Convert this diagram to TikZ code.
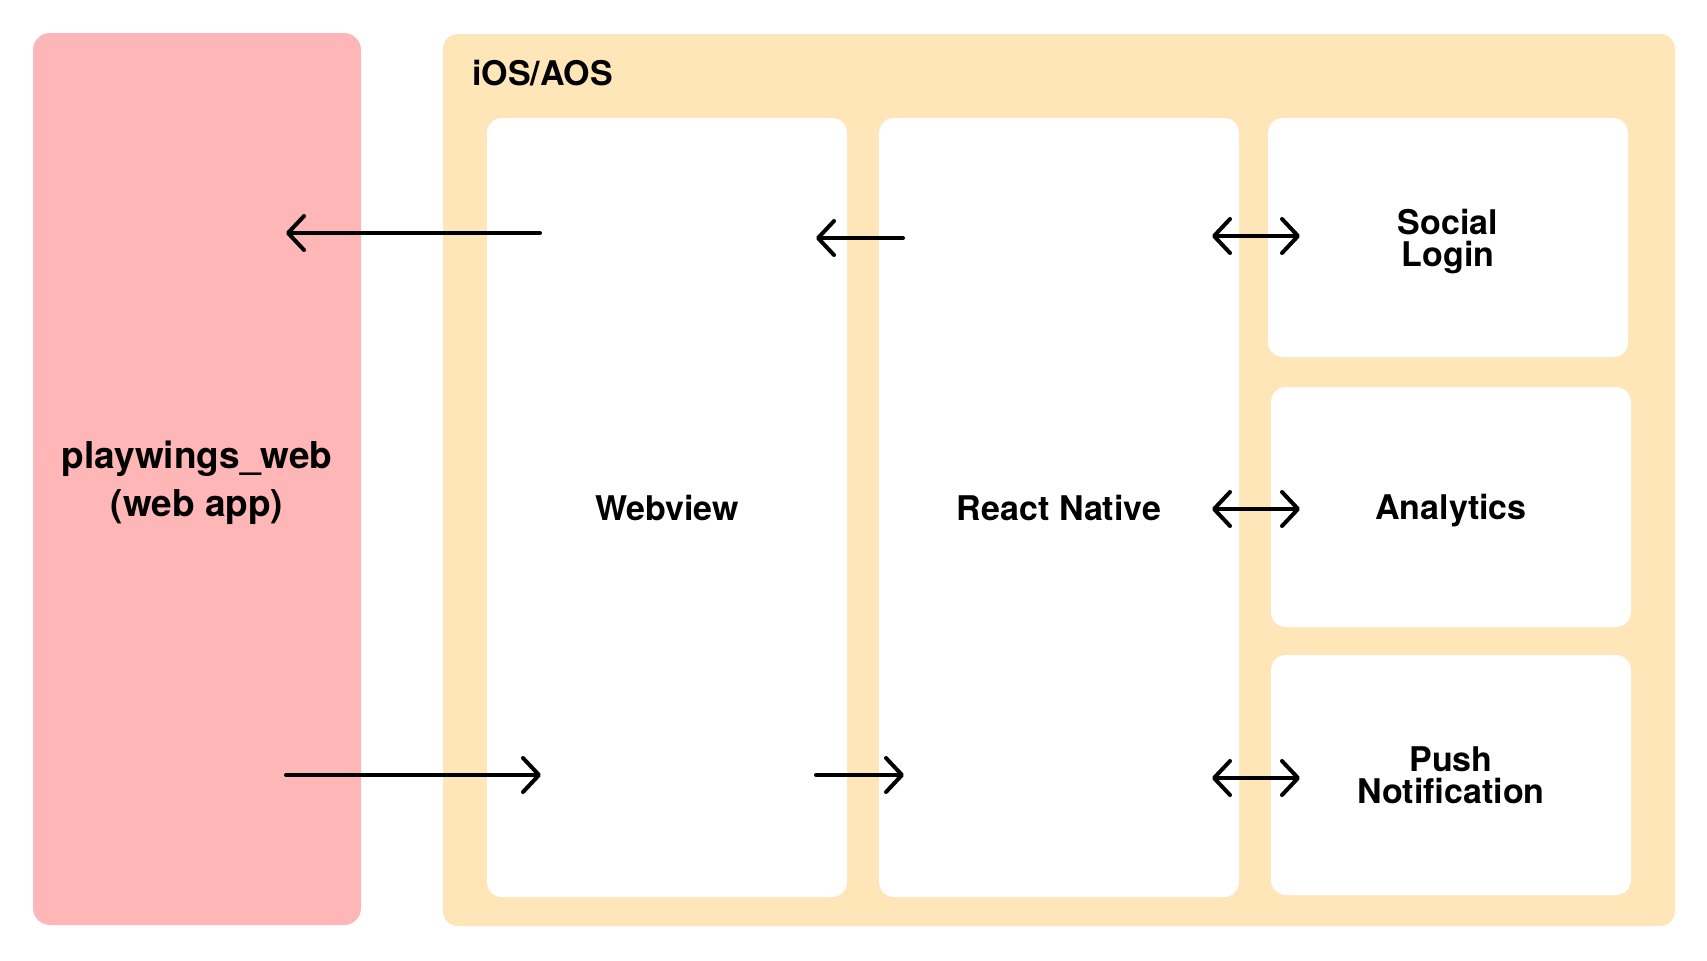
\documentclass[tikz,border=0pt]{standalone}
\usepackage{fontspec}
\setmainfont{TeX Gyre Heros}
\usetikzlibrary{arrows.meta}
\definecolor{webpink}{HTML}{FEB6B6}
\definecolor{appyellow}{HTML}{FFE6B8}
\newcommand{\lblfont}{\bfseries\fontsize{17}{16}\selectfont}
\begin{document}
\begin{tikzpicture}[x=.5pt,y=-.5pt,
  >={Straight Barb[round,length=8pt,width=17pt]},
  panel/.style={rounded corners=7.5pt, inner sep=0pt, outer sep=0pt, align=center, text depth=0pt, font=\lblfont},
  card/.style={panel, fill=white, minimum width=180pt},
  lnk/.style={line width=2pt, line cap=round}]
\useasboundingbox (0,0) rectangle (1707,960);

% outer blocks
\node[panel, fill=webpink, rounded corners=8.5pt, minimum width=164pt, minimum height=446pt,
  font=\bfseries\fontsize{18.5}{24}\selectfont] (web) at (197,479) {playwings\_web\\(web app)};
\node[panel, fill=appyellow, minimum width=616pt, minimum height=446pt] (app) at (1059,480) {};
\node[anchor=base west, inner sep=0pt, font=\lblfont] (os) at (472,85) {iOS/AOS};

% inner cards
\node[card, minimum height=389.5pt] (wv) at (667,507.5) {Webview};
\node[card, minimum height=389.5pt] (rn) at (1059,507.5) {React Native};
\node[card, minimum height=119.5pt] (social) at (1448,237.5) {Social\\Login};
\node[card, minimum height=120pt] (stats) at (1451,507) {Analytics};
\node[card, minimum height=120pt] (push) at (1451,775) {Push\\Notification};

% arrow ends
\coordinate (a1) at (540,233);   \coordinate (a0) at (286,233);
\coordinate (b0) at (286,775);   \coordinate (b1) at (541,775);
\coordinate (c1) at (903,238);   \coordinate (c0) at (816,238);
\coordinate (d0) at (816,775);   \coordinate (d1) at (904,775);
\coordinate (s0) at (1212,236);  \coordinate (s1) at (1300,236);
\coordinate (t0) at (1212,509);  \coordinate (t1) at (1300,509);
\coordinate (p0) at (1212,778);  \coordinate (p1) at (1300,778);

\draw[lnk,->] (a1) -- (a0);
\draw[lnk,->] (b0) -- (b1);
\draw[lnk,->] (c1) -- (c0);
\draw[lnk,->] (d0) -- (d1);

\draw[lnk,<->] (s0) -- (s1);
\draw[lnk,<->] (t0) -- (t1);
\draw[lnk,<->] (p0) -- (p1);
\end{tikzpicture}
\end{document}
